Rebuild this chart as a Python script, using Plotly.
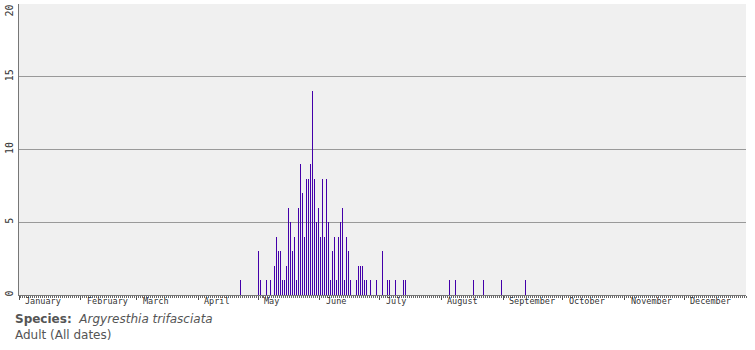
import plotly.graph_objects as go

# Day of year (0 = 1 January) and number of adult records per day
days = [111, 120, 121, 124, 126, 128, 129, 130, 131, 132, 133, 134, 135, 136, 137, 138,
        139, 140, 141, 142, 143, 144, 145, 146, 147, 148, 149, 150, 151, 152, 153, 154,
        155, 156, 157, 158, 159, 160, 161, 162, 163, 164, 165, 166, 169, 170, 171, 172,
        173, 174, 176, 179, 182, 183, 185, 186, 189, 193, 194, 216, 219, 228, 233, 242, 254]
counts = [1, 3, 1, 1, 1, 2, 4, 3, 3, 1, 1, 2, 6, 5, 3, 4,
          1, 6, 9, 7, 4, 8, 8, 9, 14, 8, 5, 6, 4, 8, 4, 8,
          5, 1, 3, 4, 1, 4, 5, 6, 1, 4, 3, 1, 1, 2, 2, 2,
          1, 1, 1, 1, 3, 1, 1, 1, 1, 1, 1, 1, 1, 1, 1, 1, 1]

months = ["January", "February", "March", "April", "May", "June", "July",
          "August", "September", "October", "November", "December"]
month_starts = [0, 31, 59, 90, 120, 151, 181, 212, 243, 273, 304, 334]
y_ticks = [0, 5, 10, 15]
grid_vals = [5, 10, 15]
y_top = 20

fig = go.Figure()
fig.add_trace(go.Bar(
    x=[d + 0.25 for d in days], y=counts, width=0.5,
    marker=dict(color="rgba(68,0,170,0.999)", line=dict(width=0)),
    hoverinfo="skip", showlegend=False,
))
fig.add_trace(go.Scatter(x=[0], y=[0], yaxis="y2", mode="markers",
                         marker=dict(opacity=0), showlegend=False, hoverinfo="skip"))

for m, s in zip(months, month_starts):
    fig.add_annotation(x=s, y=0, xref="x", yref="paper", text=m,
                       showarrow=False, xanchor="left", yanchor="top", yshift=0, xshift=5,
                       borderpad=0,
                       font=dict(family="DejaVu Sans Mono", size=8.5, color="#333333"))

# top y label (would be cut at the edge as a tick label)
fig.add_annotation(x=0, y=y_top, xref="paper", yref="y", text=str(y_top), textangle=-90,
                   showarrow=False, xanchor="right", yanchor="top", xshift=-4, yshift=0,
                   borderpad=0,
                   font=dict(family="DejaVu Sans Mono", size=10, color="#333333"))

fig.add_annotation(x=0, y=0, xref="paper", yref="paper", xanchor="left", yanchor="top",
                   yshift=-16, xshift=-5, showarrow=False, borderpad=0,
                   text="<b>Species:</b>  <i>Argyresthia trifasciata</i>",
                   font=dict(family="DejaVu Sans", size=12, color="#555555"))
fig.add_annotation(x=0, y=0, xref="paper", yref="paper", xanchor="left", yanchor="top",
                   yshift=-32, xshift=-5, showarrow=False, borderpad=0,
                   text="Adult (All dates)",
                   font=dict(family="DejaVu Sans", size=12, color="#555555"))

fig.update_layout(
    width=755, height=350,
    margin=dict(l=16, r=9, t=4, b=55),
    paper_bgcolor="white", plot_bgcolor="#f0f0f0",
    bargap=0,
    xaxis=dict(range=[0, 365], tickvals=month_starts, showticklabels=False,
               ticks="outside", ticklen=4, tickcolor="#555555", tickwidth=1,
               showgrid=False, zeroline=False, showline=True, linecolor="#777777",
               linewidth=1,
               minor=dict(dtick=1, tick0=0, ticks="outside", ticklen=2,
                          tickcolor="#666666", tickwidth=1, showgrid=False)),
    yaxis=dict(range=[0, y_top], tickvals=y_ticks, tickangle=-90, ticks="",
               showgrid=False, zeroline=False, showline=True, linecolor="#777777",
               linewidth=1, ticklabelstandoff=1,
               tickfont=dict(family="DejaVu Sans Mono", size=10, color="#333333")),
    yaxis2=dict(range=[0, y_top], overlaying="y", tickvals=grid_vals, showticklabels=False,
                ticks="", showgrid=True, gridcolor="#999999", gridwidth=1,
                zeroline=False, showline=False),
)

fig.write_html("out.html")
